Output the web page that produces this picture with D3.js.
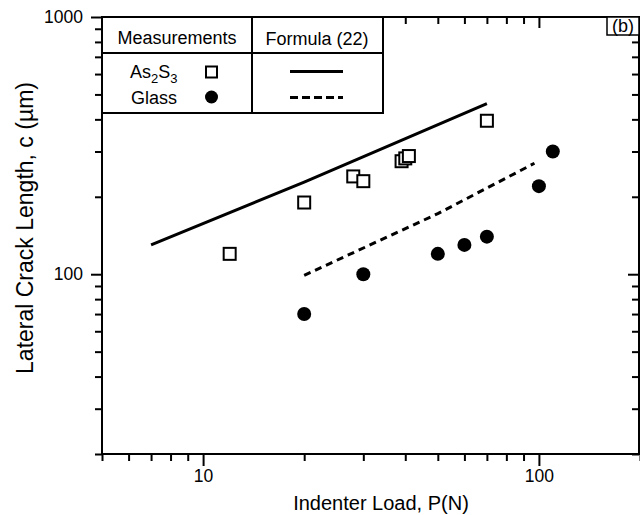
<!DOCTYPE html>
<html>
<head>
<meta charset="utf-8">
<script src="https://cdn.jsdelivr.net/npm/d3@7"></script>
<style>
  html, body { margin: 0; padding: 0; background: #fff; }
  svg { display: block; }
  text { font-family: "Liberation Sans", Arial, Helvetica, sans-serif; fill: #000; }
</style>
</head>
<body>
<svg id="chart" width="640" height="515"></svg>
<script>
// Measured lateral crack lengths (µm) against indenter load (N)
const as2s3Load  = [12, 20, 28, 30, 39, 40, 41, 70];
const as2s3Crack = [120, 190, 240, 230, 275, 282, 288, 395];
const glassLoad  = [20, 30, 50, 60, 70, 100, 110];
const glassCrack = [70, 100, 120, 130, 140, 220, 300];

// Formula (22) predictions
const formulaAsLoad     = [7, 20, 70];
const formulaAsCrack    = [130, 228, 460];
const formulaGlassLoad  = [20, 50, 97];
const formulaGlassCrack = [99, 172, 270];

// Axis ticks
const xMajor = [10, 100];
const xMinor = [5, 6, 7, 8, 9, 20, 30, 40, 50, 60, 70, 80, 90, 200];
const yMajor = [100, 1000];
const yMinor = [20, 30, 40, 50, 60, 70, 80, 90, 200, 300, 400, 500, 600, 700, 800, 900];

const svg = d3.select("#chart");
const plotL = 102, plotR = 639, plotT = 17, plotB = 454;

const x = d3.scaleLog().domain([5, 200]).range([plotL, 640]);
const y = d3.scaleLog().domain([20, 1000]).range([plotB, plotT]);

const fmt = d => String(d);

function styleAxis(g) {
  g.select(".domain").remove();
  g.selectAll(".tick line").attr("stroke", "#000").attr("stroke-width", 2);
  g.selectAll(".tick text")
    .style("font-family", '"Liberation Sans", Arial, Helvetica, sans-serif')
    .style("font-size", "17.5px")
    .attr("fill", "#000");
}

// bottom axis (outward ticks)
svg.append("g").attr("transform", `translate(0,${plotB})`)
  .call(d3.axisBottom(x).tickValues(xMinor).tickSize(7).tickFormat(""))
  .call(styleAxis);
svg.append("g").attr("transform", `translate(0,${plotB})`)
  .call(d3.axisBottom(x).tickValues(xMajor).tickSize(12).tickPadding(4).tickFormat(fmt))
  .call(styleAxis);

// top axis (inward ticks)
svg.append("g").attr("transform", `translate(0,${plotT})`)
  .call(d3.axisTop(x).tickValues(xMinor).tickSizeInner(-7).tickSizeOuter(0).tickFormat(""))
  .call(styleAxis);
svg.append("g").attr("transform", `translate(0,${plotT})`)
  .call(d3.axisTop(x).tickValues(xMajor).tickSizeInner(-11).tickSizeOuter(0).tickFormat(""))
  .call(styleAxis);

// left axis (outward ticks)
svg.append("g").attr("transform", `translate(${plotL},0)`)
  .call(d3.axisLeft(y).tickValues(yMinor).tickSize(7).tickFormat(""))
  .call(styleAxis);
svg.append("g").attr("transform", `translate(${plotL},0)`)
  .call(d3.axisLeft(y).tickValues(yMajor).tickSize(11).tickPadding(8).tickFormat(fmt))
  .call(styleAxis);

// right axis (inward ticks)
svg.append("g").attr("transform", `translate(${plotR},0)`)
  .call(d3.axisRight(y).tickValues(yMinor).tickSizeInner(-7).tickSizeOuter(0).tickFormat(""))
  .call(styleAxis);
svg.append("g").attr("transform", `translate(${plotR},0)`)
  .call(d3.axisRight(y).tickValues(yMajor).tickSizeInner(-11).tickSizeOuter(0).tickFormat(""))
  .call(styleAxis);

// plot frame
svg.append("rect")
  .attr("x", plotL).attr("y", plotT)
  .attr("width", plotR - plotL).attr("height", plotB - plotT)
  .attr("fill", "none").attr("stroke", "#000").attr("stroke-width", 2);

// axis titles
svg.append("text")
  .attr("x", 381).attr("y", 510)
  .attr("text-anchor", "middle")
  .style("font-size", "20px")
  .text("Indenter Load, P(N)");

svg.append("text")
  .attr("transform", "translate(33,228) rotate(-90)")
  .attr("text-anchor", "middle")
  .style("font-size", "23px")
  .text("Lateral Crack Length, c (µm)");

// formula curves
const line = d3.line().x(d => x(d[0])).y(d => y(d[1]));
svg.append("path")
  .datum(d3.zip(formulaAsLoad, formulaAsCrack))
  .attr("d", line)
  .attr("fill", "none").attr("stroke", "#000").attr("stroke-width", 3);
svg.append("path")
  .datum(d3.zip(formulaGlassLoad, formulaGlassCrack))
  .attr("d", line)
  .attr("fill", "none").attr("stroke", "#000").attr("stroke-width", 3)
  .attr("stroke-dasharray", "7,5");

// measurements
const sq = 12;
svg.append("g").selectAll("circle")
  .data(d3.zip(glassLoad, glassCrack))
  .join("circle")
  .attr("cx", d => x(d[0])).attr("cy", d => y(d[1]))
  .attr("r", 7).attr("fill", "#000");

svg.append("g").selectAll("rect")
  .data(d3.zip(as2s3Load, as2s3Crack))
  .join("rect")
  .attr("x", d => x(d[0]) - sq / 2).attr("y", d => y(d[1]) - sq / 2)
  .attr("width", sq).attr("height", sq)
  .attr("fill", "#fff").attr("stroke", "#000").attr("stroke-width", 2);

// legend table
const lg = svg.append("g");
const lgL = plotL, lgM = 252, lgR = 383, lgT = plotT, lgH = 53, lgB = 113;
lg.append("rect").attr("x", lgL).attr("y", lgT)
  .attr("width", lgR - lgL).attr("height", lgB - lgT)
  .attr("fill", "#fff").attr("stroke", "#000").attr("stroke-width", 2);
lg.append("line").attr("x1", lgL).attr("x2", lgR).attr("y1", lgH).attr("y2", lgH)
  .attr("stroke", "#000").attr("stroke-width", 2);
lg.append("line").attr("x1", lgM).attr("x2", lgM).attr("y1", lgT).attr("y2", lgB)
  .attr("stroke", "#000").attr("stroke-width", 2);

lg.append("text").attr("x", 177).attr("y", 44).attr("text-anchor", "middle")
  .style("font-size", "18px").text("Measurements");
lg.append("text").attr("x", 317).attr("y", 45).attr("text-anchor", "middle")
  .style("font-size", "18px").text("Formula (22)");

const as = lg.append("text").attr("x", 130).attr("y", 78).style("font-size", "18px");
as.append("tspan").text("As");
as.append("tspan").attr("dy", 5).style("font-size", "13px").text("2");
as.append("tspan").attr("dy", -5).text("S");
as.append("tspan").attr("dy", 5).style("font-size", "13px").text("3");

lg.append("text").attr("x", 131).attr("y", 104).style("font-size", "18px").text("Glass");

lg.append("rect").attr("x", 211.5 - 5.5).attr("y", 72 - 5.5)
  .attr("width", 11).attr("height", 11)
  .attr("fill", "#fff").attr("stroke", "#000").attr("stroke-width", 2);
lg.append("circle").attr("cx", 211.5).attr("cy", 97).attr("r", 6.5).attr("fill", "#000");

lg.append("line").attr("x1", 290).attr("x2", 343).attr("y1", 71.5).attr("y2", 71.5)
  .attr("stroke", "#000").attr("stroke-width", 3);
lg.append("line").attr("x1", 290).attr("x2", 343).attr("y1", 97.5).attr("y2", 97.5)
  .attr("stroke", "#000").attr("stroke-width", 3).attr("stroke-dasharray", "8,4");

// panel tag
svg.append("rect").attr("x", 607).attr("y", plotT).attr("width", plotR - 607).attr("height", 18)
  .attr("fill", "#fff").attr("stroke", "#000").attr("stroke-width", 1.5);
svg.append("text").attr("x", 623).attr("y", 32).attr("text-anchor", "middle")
  .style("font-size", "18px").text("(b)");
</script>
</body>
</html>
